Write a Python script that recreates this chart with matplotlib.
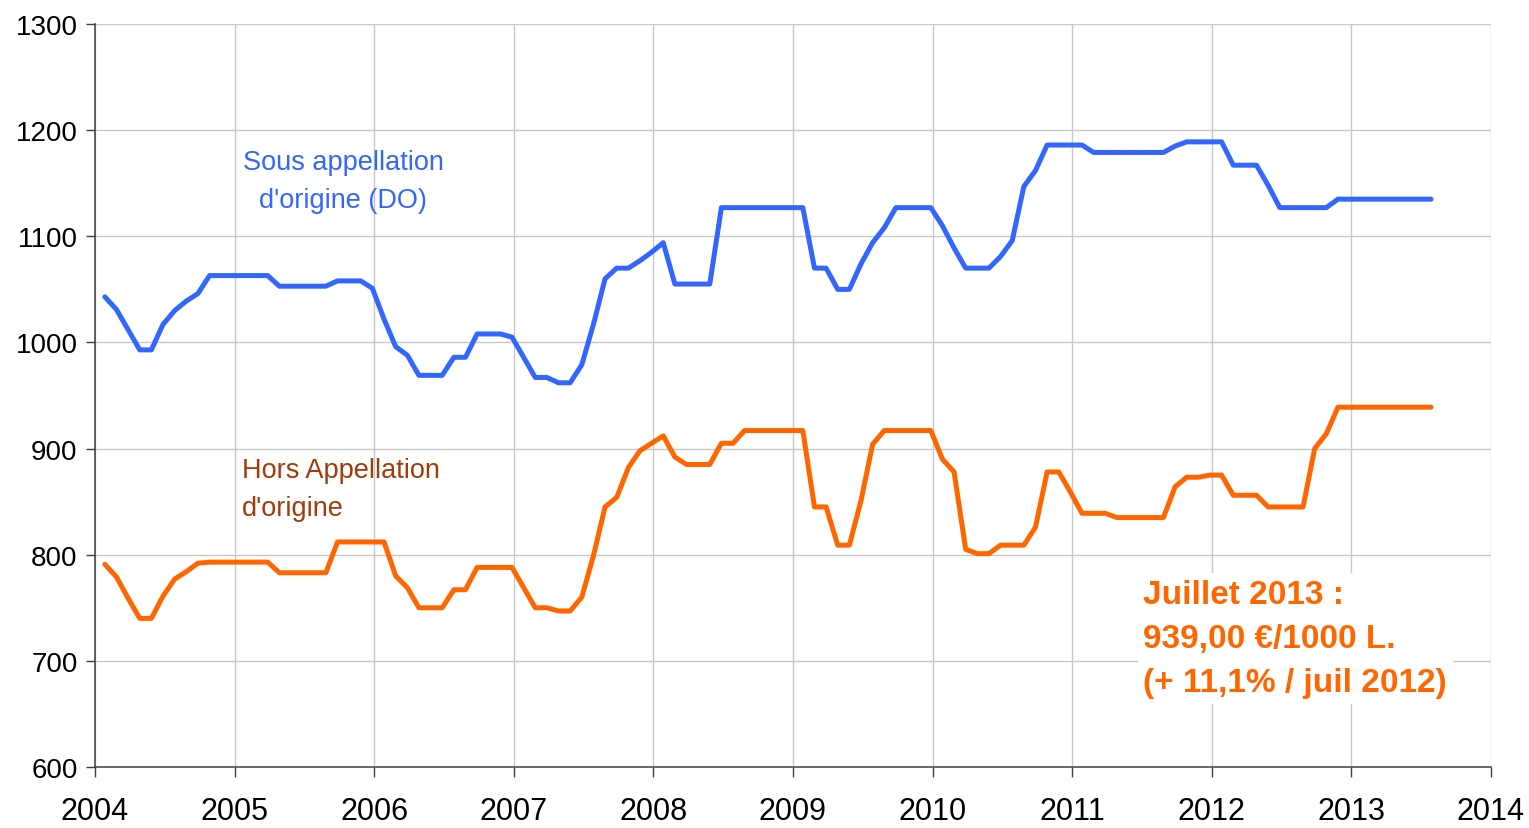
import matplotlib
matplotlib.use("Agg")
import matplotlib.pyplot as plt
import numpy as np

plt.rcParams['font.family'] = ['Liberation Sans', 'DejaVu Sans']

# monthly prices, Jan 2004 -> Jul 2013 (EUR / 1000 L)
start_year = 2004
do_prices = [
    1043, 1031, 1012, 993, 993, 1017, 1030, 1039, 1046, 1063, 1063, 1063,   # 2004
    1063, 1063, 1063, 1053, 1053, 1053, 1053, 1053, 1058, 1058, 1058, 1051,  # 2005
    1022, 996, 988, 969, 969, 969, 986, 986, 1008, 1008, 1008, 1005,        # 2006
    986, 967, 967, 962, 962, 979, 1017, 1060, 1070, 1070, 1077, 1085,       # 2007
    1094, 1055, 1055, 1055, 1055, 1127, 1127, 1127, 1127, 1127, 1127, 1127,  # 2008
    1127, 1070, 1070, 1050, 1050, 1074, 1094, 1108, 1127, 1127, 1127, 1127,  # 2009
    1110, 1089, 1070, 1070, 1070, 1081, 1096, 1147, 1162, 1186, 1186, 1186,  # 2010
    1186, 1179, 1179, 1179, 1179, 1179, 1179, 1179, 1185, 1189, 1189, 1189,  # 2011
    1189, 1167, 1167, 1167, 1148, 1127, 1127, 1127, 1127, 1127, 1135, 1135,  # 2012
    1135, 1135, 1135, 1135, 1135, 1135, 1135,                               # 2013
]
hors_prices = [
    791, 779, 759, 740, 740, 761, 777, 784, 792, 793, 793, 793,   # 2004
    793, 793, 793, 783, 783, 783, 783, 783, 812, 812, 812, 812,   # 2005
    812, 780, 769, 750, 750, 750, 767, 767, 788, 788, 788, 788,   # 2006
    769, 750, 750, 747, 747, 760, 799, 845, 854, 882, 898, 905,   # 2007
    912, 892, 885, 885, 885, 905, 905, 917, 917, 917, 917, 917,   # 2008
    917, 845, 845, 809, 809, 851, 904, 917, 917, 917, 917, 917,   # 2009
    890, 878, 805, 801, 801, 809, 809, 809, 826, 878, 878, 859,   # 2010
    839, 839, 839, 835, 835, 835, 835, 835, 864, 873, 873, 875,   # 2011
    875, 856, 856, 856, 845, 845, 845, 845, 900, 914, 939, 939,   # 2012
    939, 939, 939, 939, 939, 939, 939,                            # 2013
]
year_ticks = list(range(2004, 2015))
price_ticks = list(range(600, 1301, 100))

# points sit near the end of each month on the year axis
months = np.arange(len(do_prices))
x = start_year + (months + 0.85) / 12

fig = plt.figure(figsize=(15.29, 8.29), dpi=100)
ax = fig.add_axes([0.0621, 0.0736, 0.9751 - 0.0621, 0.9698 - 0.0736])

ax.plot(x, do_prices, color='#3366FF', lw=3.6, solid_joinstyle='round', solid_capstyle='round', zorder=3)
ax.plot(x, hors_prices, color='#FF6600', lw=3.6, solid_joinstyle='round', solid_capstyle='round', zorder=3)

ax.set_xlim(2004, 2014)
ax.set_ylim(600, 1300)
ax.set_xticks(year_ticks)
ax.set_yticks(price_ticks)
ax.grid(True, color='#C8C8C8', lw=1)
ax.set_axisbelow(True)

for s in ['top', 'right']:
    ax.spines[s].set_visible(False)
for s in ['left', 'bottom']:
    ax.spines[s].set_color('#404040')
    ax.spines[s].set_linewidth(1.1)

ax.tick_params(axis='y', direction='out', length=6.5, width=1, color='#404040', labelsize=20, pad=6)
ax.tick_params(axis='x', direction='out', length=7, width=1, color='#404040', labelsize=22, pad=14)

ax.text(2005.78, 1152, "Sous appellation\nd'origine (DO)", color='#3366FF', fontsize=19.5,
        ha='center', va='center', linespacing=1.6)
ax.text(2005.05, 862, "Hors Appellation\nd'origine", color='#A33A0A', fontsize=19.5,
        ha='left', va='center', linespacing=1.6)
ax.text(2011.51, 721, "Juillet 2013 :\n939,00 €/1000 L.\n(+ 11,1% / juil 2012)", color='#FF6600',
        fontsize=24, fontweight='bold', ha='left', va='center', linespacing=1.55,
        bbox=dict(facecolor='white', edgecolor='none', pad=4), zorder=4)

fig.savefig('out.png', dpi=100)
